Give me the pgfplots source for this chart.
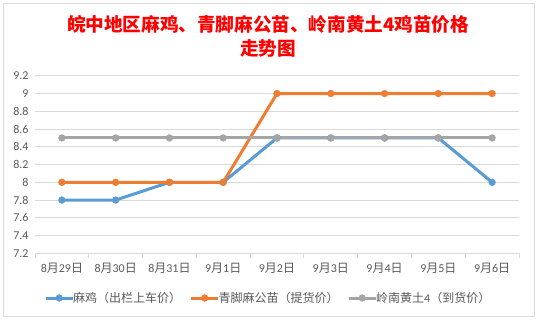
\documentclass[border=0pt]{standalone}
\usepackage{pgfplots}
\pgfplotsset{compat=1.18}
\usepackage{fontspec}
\setmainfont{Carlito}
\newfontfamily\cjk{Noto Sans CJK SC}
\definecolor{cblue}{HTML}{5B9BD5}
\definecolor{corange}{HTML}{ED7D31}
\definecolor{cgray}{HTML}{A5A5A5}
\definecolor{txt}{HTML}{595959}
\definecolor{grid}{HTML}{D9D9D9}
\newcommand\yue{{\cjk 月}}
\newcommand\ri{{\cjk 日}}
\begin{document}
\begin{tikzpicture}
\path[use as bounding box] (0pt,0pt) rectangle (537pt,319pt);
\draw[grid, line width=0.8pt] (3pt,3pt) rectangle (534pt,316pt);
\node[text=red, align=center, font={\cjk\bfseries\fontsize{18.6}{24}\selectfont}]
  at (268pt,283pt) {皖中地区麻鸡、青脚麻公苗、岭南黄土4鸡苗价格\\走势图};
\begin{axis}[
  at={(35pt,65.7pt)}, anchor=south west,
  scale only axis, width=484pt, height=177.5pt,
  xmin=-0.5, xmax=8.5, ymin=7.2, ymax=9.2,
  axis x line*=bottom, axis y line*=left,
  x axis line style={draw=grid, line width=0.8pt},
  y axis line style={draw=none},
  xtick={0,...,8},
  xticklabels={8\yue29\ri, 8\yue30\ri, 8\yue31\ri, 9\yue1\ri, 9\yue2\ri, 9\yue3\ri, 9\yue4\ri, 9\yue5\ri, 9\yue6\ri},
  minor xtick={-0.5,0.5,...,8.5},
  major tick length=0pt, minor tick length=5pt, tick align=outside,
  minor tick style={draw=grid, line width=0.8pt},
  ytick={7.2,7.4,7.6,7.8,8,8.2,8.4,8.6,8.8,9,9.2},
  ymajorgrids, major grid style={draw=grid, line width=0.8pt},
  /pgf/number format/assume math mode=true,
  tick label style={text=txt, font=\fontsize{12}{14}\selectfont},
  xticklabel style={yshift=-6pt},
  yticklabel style={xshift=-3pt},
  legend style={at={(0.5,0)}, anchor=center, yshift=-44.7pt, xshift=-9pt, draw=none,
    text=txt, font=\fontsize{12}{14}\selectfont, legend columns=3,
    nodes={inner sep=1.5pt},
    /tikz/every odd column/.append style={column sep=0pt},
    /tikz/every even column/.append style={column sep=7pt}},
  legend cell align=left,
  legend image code/.code={\path (0pt,0pt) -- (24.5pt,0pt);
    \draw[overlay, mark repeat=2, mark phase=2, #1] plot coordinates {(0pt,0pt) (13.5pt,0pt) (27pt,0pt)};},
]
\addplot[cblue, line width=3pt, mark=*, mark size=3.4pt, mark options={solid, fill=cblue, line width=0.4pt}] coordinates {(0,7.8) (1,7.8) (2,8) (3,8) (4,8.5) (5,8.5) (6,8.5) (7,8.5) (8,8)};
\addplot[corange, line width=3pt, mark=*, mark size=3.4pt, mark options={solid, fill=corange, line width=0.4pt}] coordinates {(0,8) (1,8) (2,8) (3,8) (4,9) (5,9) (6,9) (7,9) (8,9)};
\addplot[cgray, line width=3pt, mark=*, mark size=3.4pt, mark options={solid, fill=cgray, line width=0.4pt}] coordinates {(0,8.5) (1,8.5) (2,8.5) (3,8.5) (4,8.5) (5,8.5) (6,8.5) (7,8.5) (8,8.5)};
\legend{{\cjk 麻鸡（出栏上车价）}, {\cjk 青脚麻公苗（提货价）}, {\cjk 岭南黄土}4{\cjk （到货价）}}
\end{axis}
\end{tikzpicture}
\end{document}
